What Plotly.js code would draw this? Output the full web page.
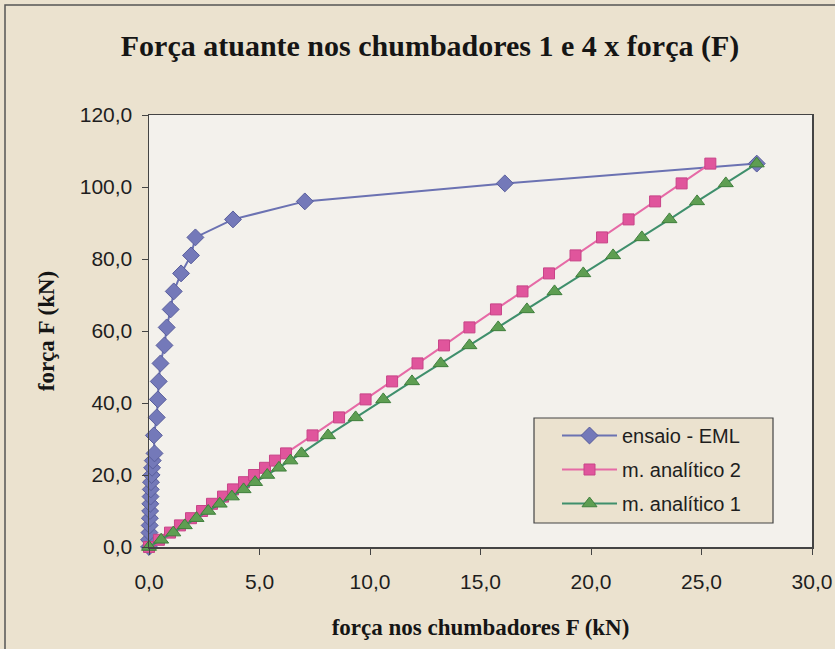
<!DOCTYPE html>
<html>
<head>
<meta charset="utf-8">
<script src="https://cdn.plot.ly/plotly-3.0.1.min.js"></script>
<style>
  html, body { margin: 0; padding: 0; background: #ebe2cf; }
  #chart { width: 835px; height: 649px; }
</style>
</head>
<body>
<div id="chart"></div>
<script>
// Load levels F (kN) shared by the series
const forca = [0, 2, 4, 6, 8, 10, 12, 14, 16, 18, 20, 22, 24, 26, 31, 36, 41, 46, 51, 56, 61, 66, 71, 76, 81, 86, 91, 96, 101, 106.5];

// Force in anchors (kN)
const ensaioEML = [0, 0.0, 0.02, 0.03, 0.04, 0.05, 0.06, 0.07, 0.08, 0.09, 0.12, 0.14, 0.17, 0.25, 0.22, 0.35, 0.40, 0.44, 0.52, 0.70, 0.80, 0.98, 1.12, 1.45, 1.90, 2.10, 3.80, 7.05, 16.10, 27.50];
const analitico2 = [0, 0.45, 0.95, 1.40, 1.90, 2.40, 2.85, 3.35, 3.80, 4.30, 4.75, 5.25, 5.70, 6.20, 7.40, 8.60, 9.80, 11.00, 12.15, 13.35, 14.50, 15.70, 16.90, 18.10, 19.30, 20.50, 21.70, 22.90, 24.10, 25.40];
const analitico1 = [0, 0.55, 1.10, 1.62, 2.15, 2.68, 3.20, 3.75, 4.28, 4.80, 5.35, 5.88, 6.40, 6.90, 8.10, 9.35, 10.60, 11.90, 13.20, 14.50, 15.80, 17.10, 18.35, 19.65, 21.00, 22.30, 23.55, 24.80, 26.10, 27.50];

const seriesNames = ["ensaio - EML", "m. analítico 2", "m. analítico 1"];
const xTickVals = [0, 5, 10, 15, 20, 25, 30];
const yTickVals = [0, 20, 40, 60, 80, 100, 120];

const traces = [
  {
    x: ensaioEML, y: forca, name: seriesNames[0], type: "scatter", mode: "lines+markers",
    line: { color: "#6b72b2", width: 2 },
    marker: { symbol: "diamond", size: 13, color: "#7479b9", line: { color: "#585d9c", width: 1 } },
    legendgroup: "a", cliponaxis: false
  },
  {
    x: analitico2, y: forca, name: seriesNames[1], type: "scatter", mode: "lines+markers",
    line: { color: "#e66aa6", width: 2 },
    marker: { symbol: "square", size: 11, color: "#e0559c", line: { color: "#c84488", width: 1 } },
    legendgroup: "b", cliponaxis: false
  },
  {
    x: analitico1, y: forca, name: seriesNames[2], type: "scatter", mode: "lines+markers",
    line: { color: "#3f8f6c", width: 2 },
    marker: { symbol: "triangle-up", size: 13, color: "#5e9e52", line: { color: "#3f7f3c", width: 1 } },
    legendgroup: "c", cliponaxis: false
  }
];

// plot area geometry helpers (pixels -> paper)
const L = 149, R = 812, T = 115, B = 547;
const px = v => (v - L) / (R - L);
const py = v => (B - v) / (B - T);

const layout = {
  width: 835, height: 649,
  paper_bgcolor: "#ebe2cf",
  plot_bgcolor: "#f3f1ec",
  separators: ", ",
  margin: { l: L, r: 835 - R, t: T, b: 649 - B },
  font: { family: "Liberation Sans, Arial, sans-serif", size: 21, color: "#1e1e1e" },
  title: {
    text: "<b>Força atuante nos chumbadores 1 e 4 x força (F)</b>",
    font: { family: "Liberation Serif, Times New Roman, serif", size: 30, color: "#151515" },
    x: 0.515, xanchor: "center", y: 0.93, yanchor: "middle"
  },
  xaxis: {
    range: [0, 30], tickvals: xTickVals, tickformat: ".1f",
    ticks: "outside", ticklen: 6, tickcolor: "#444",
    showline: true, mirror: true, linecolor: "#444", linewidth: 1.5,
    showgrid: false, zeroline: false,
    tickfont: { size: 21 }, ticklabelstandoff: 9,
    title: {
      text: "<b>força nos chumbadores F (kN)</b>",
      font: { family: "Liberation Serif, Times New Roman, serif", size: 23, color: "#151515" },
      standoff: 27
    }
  },
  yaxis: {
    range: [0, 120], tickvals: yTickVals, tickformat: ".1f",
    ticks: "outside", ticklen: 6, tickcolor: "#444",
    showline: true, mirror: true, linecolor: "#444", linewidth: 1.5,
    showgrid: false, zeroline: false,
    tickfont: { size: 21 }, ticklabelstandoff: 5,
    title: {
      text: "<b>força F (kN)</b>",
      font: { family: "Liberation Serif, Times New Roman, serif", size: 23, color: "#151515" },
      standoff: 18
    }
  },
  legend: {
    x: px(557), xanchor: "left", y: py(416), yanchor: "top",
    bgcolor: "rgba(0,0,0,0)", borderwidth: 0,
    font: { size: 20, color: "#1e1e1e" },
    tracegroupgap: 5, itemwidth: 55,
    traceorder: "grouped"
  },
  shapes: [
    { type: "rect", xref: "paper", yref: "paper",
      x0: px(5), x1: px(845), y0: py(660), y1: py(5),
      line: { color: "#555", width: 1.5 }, fillcolor: "rgba(0,0,0,0)", layer: "below" },
    { type: "rect", xref: "paper", yref: "paper",
      x0: px(534), x1: px(773), y0: py(523), y1: py(418),
      line: { color: "#444", width: 1.2 }, fillcolor: "#ebe2cf", layer: "above" }
  ],
  showlegend: true
};

Plotly.newPlot("chart", traces, layout, { displayModeBar: false, staticPlot: true });
</script>
</body>
</html>
